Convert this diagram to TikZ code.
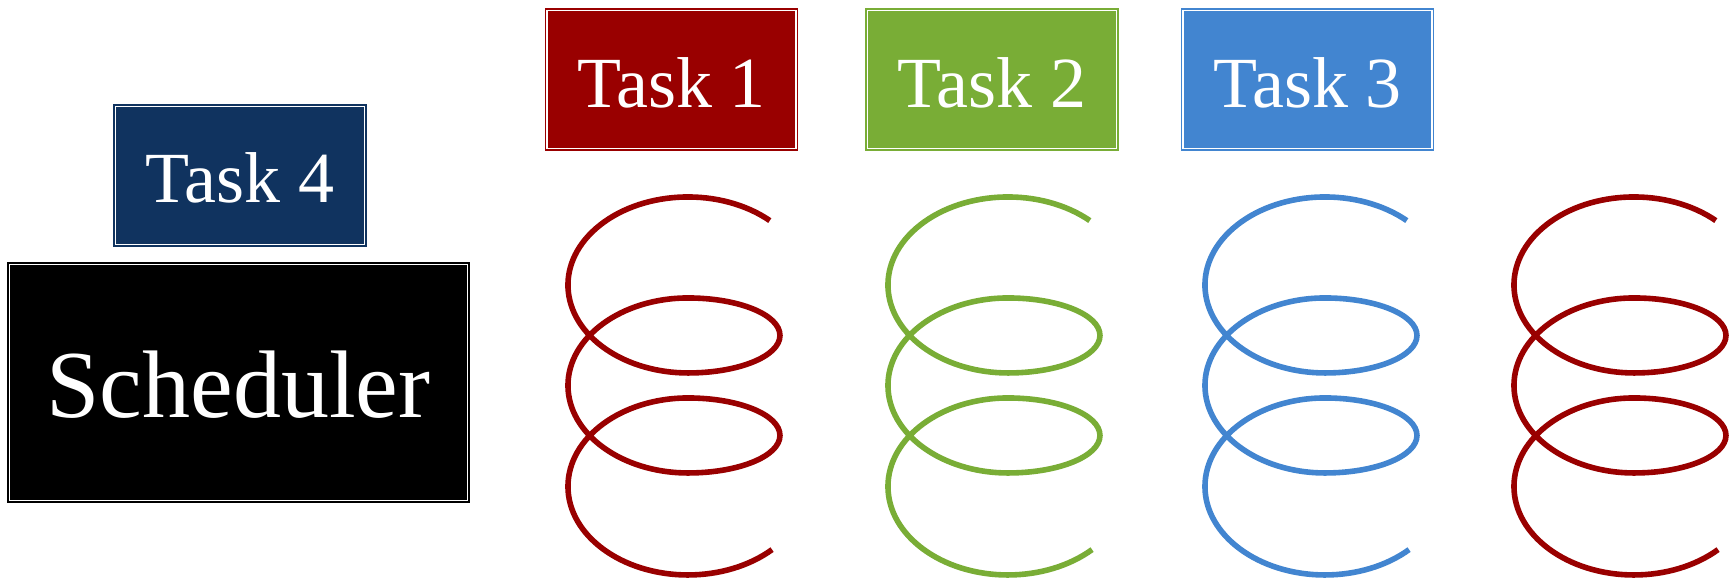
\documentclass[tikz,border=0pt]{standalone}
\usepackage{fontspec}
\setmainfont{Liberation Serif}
\definecolor{taskred}{HTML}{990000}
\definecolor{taskgreen}{HTML}{79AD36}
\definecolor{taskblue}{HTML}{4285D0}
\definecolor{tasknavy}{HTML}{10335F}
\tikzset{
  framebox/.style={draw=#1, fill=#1, double=white, double distance=1.5pt,
    line width=1.5pt, inner sep=0pt, rectangle},
  taskbox/.style={framebox=#1, minimum width=249pt, minimum height=138pt},
  tasklabel/.style={text=white, anchor=base, inner sep=0pt,
    font=\fontsize{72}{80}\selectfont},
  coilline/.style={line width=5.6pt},
  % one coil spring: two front half-loops on the right, three back arcs on the left
  coil/.pic={
    \draw[coilline] (81.8,-220.6)
      arc[start angle=47, end angle=270, x radius=120, y radius=88]
      arc[start angle=-90, end angle=90, x radius=92, y radius=37.5]
      arc[start angle=90, end angle=270, x radius=120, y radius=87.5]
      arc[start angle=-90, end angle=90, x radius=92, y radius=37.5]
      arc[start angle=90, end angle=314.5, x radius=120, y radius=88.5];
  }
}
\begin{document}
\begin{tikzpicture}[x=1pt, y=1pt]
  \useasboundingbox (0,0) rectangle (1736,-580);

  % task boxes
  \node[taskbox=taskred]   (t1) at (671.5,-79.5) {};
  \node[taskbox=taskgreen] (t2) at (992,-79.5) {};
  \node[taskbox=taskblue]  (t3) at (1307.5,-79.5) {};
  \node[taskbox=tasknavy]  (t4) at (240,-175.5) {};
  \node[framebox=black, minimum width=458pt, minimum height=236pt] (sched) at (238.5,-382.5) {};

  \node[tasklabel] (l1) at (t1.center |- 0,-108) {Task 1};
  \node[tasklabel] (l2) at (t2.center |- 0,-108) {Task 2};
  \node[tasklabel] (l3) at (t3.center |- 0,-108) {Task 3};
  \node[tasklabel] (l4) at (t4.center |- 0,-203) {Task 4};
  \node[tasklabel, font=\fontsize{96}{104}\selectfont] (ls) at (sched.center |- 0,-417) {Scheduler};

  % coil springs
  \pic[color=taskred]   at (688,0)  {coil};
  \pic[color=taskgreen] at (1008,0) {coil};
  \pic[color=taskblue]  at (1325,0) {coil};
  \pic[color=taskred]   at (1634,0) {coil};
\end{tikzpicture}
\end{document}
